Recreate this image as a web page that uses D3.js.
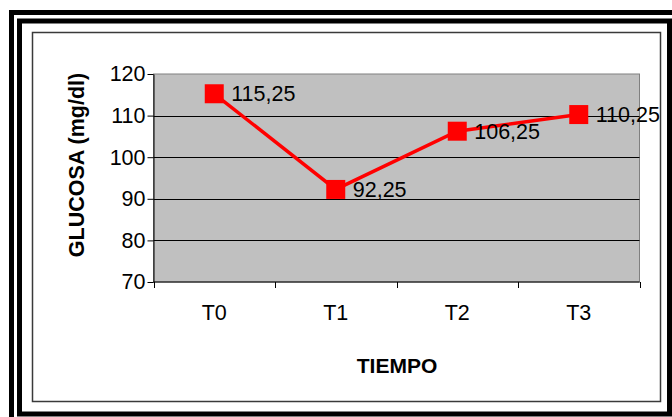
<!DOCTYPE html>
<html>
<head>
<meta charset="utf-8">
<script src="https://cdn.jsdelivr.net/npm/d3@7"></script>
<style>
  html, body { margin: 0; padding: 0; background: #ffffff; }
  svg { display: block; font-family: "Liberation Sans", Arial, sans-serif; }
</style>
</head>
<body>
<svg id="chart" width="672" height="417"></svg>
<script>
// Glucose readings at each sampling time
const categories = ["T0", "T1", "T2", "T3"];
const glucosa = [115.25, 92.25, 106.25, 110.25];
const yTicks = [70, 80, 90, 100, 110, 120];
const valueLabels = ["115,25", "92,25", "106,25", "110,25"];

const svg = d3.select("#chart");

// Double black frame around the chart
svg.append("rect")
  .attr("x", 11.5).attr("y", 12.5).attr("width", 720).attr("height", 520)
  .attr("fill", "none").attr("stroke", "#000").attr("stroke-width", 5);
svg.append("rect")
  .attr("x", 19.5).attr("y", 21).attr("width", 650).attr("height", 393)
  .attr("fill", "none").attr("stroke", "#000").attr("stroke-width", 5);

// Chart area border
svg.append("rect")
  .attr("x", 32.5).attr("y", 32.5).attr("width", 628).attr("height", 369)
  .attr("fill", "#fff").attr("stroke", "#3a3a3a").attr("stroke-width", 1.5);

const plot = { left: 153.5, right: 639.5, top: 74, bottom: 282 };

const x = d3.scaleBand().domain(categories).range([plot.left, plot.right]);
const y = d3.scaleLinear().domain([70, 120]).range([plot.bottom, plot.top]);

// Plot area
svg.append("rect")
  .attr("x", plot.left).attr("y", plot.top)
  .attr("width", plot.right - plot.left).attr("height", plot.bottom - plot.top)
  .attr("fill", "#c0c0c0").attr("stroke", "#808080").attr("stroke-width", 1);

// Horizontal gridlines
svg.append("g")
  .selectAll("line")
  .data(yTicks.filter(t => t > 70 && t < 120))
  .join("line")
  .attr("x1", plot.left).attr("x2", plot.right)
  .attr("y1", d => Math.round(y(d)) + 0.5).attr("y2", d => Math.round(y(d)) + 0.5)
  .attr("stroke", "#000").attr("stroke-width", 1);

// Y axis
const yAxis = svg.append("g")
  .attr("transform", `translate(${plot.left},0)`)
  .call(d3.axisLeft(y).tickValues(yTicks).tickSize(6).tickSizeOuter(0).tickPadding(2)
    .tickFormat(d3.format("d")));
yAxis.select(".domain").attr("stroke", "#000");
yAxis.selectAll(".tick line").attr("stroke", "#000");
yAxis.selectAll(".tick text")
  .attr("font-family", "Liberation Sans, Arial, sans-serif")
  .attr("font-size", 21.5).attr("fill", "#000");

// X axis: line, tick marks between categories, centred category labels
const xAxis = svg.append("g").attr("transform", `translate(0,${plot.bottom})`);
xAxis.append("line")
  .attr("x1", plot.left).attr("x2", plot.right)
  .attr("stroke", "#000").attr("stroke-width", 1);
const boundaries = categories.map(c => x(c)).concat([x.range()[1]]);
xAxis.selectAll("line.tk")
  .data(boundaries)
  .join("line").attr("class", "tk")
  .attr("x1", d => Math.round(d) + 0.5).attr("x2", d => Math.round(d) + 0.5)
  .attr("y1", 0).attr("y2", 6)
  .attr("stroke", "#000");
xAxis.selectAll("text")
  .data(categories)
  .join("text")
  .attr("x", d => x(d) + x.bandwidth() / 2)
  .attr("y", 38)
  .attr("text-anchor", "middle")
  .attr("font-size", 21.5).attr("fill", "#000")
  .text(d => d);

// Axis titles
svg.append("text")
  .attr("x", 397).attr("y", 373)
  .attr("text-anchor", "middle")
  .attr("font-size", 21).attr("font-weight", "bold").attr("fill", "#000")
  .text("TIEMPO");
svg.append("text")
  .attr("transform", "translate(84,165) rotate(-90)")
  .attr("text-anchor", "middle")
  .attr("font-size", 21.5).attr("font-weight", "bold").attr("fill", "#000")
  .text("GLUCOSA (mg/dl)");

// Series line
const pts = categories.map((c, i) => ({ c, v: glucosa[i], label: valueLabels[i] }));
const line = d3.line()
  .x(d => x(d.c) + x.bandwidth() / 2)
  .y(d => y(d.v));
svg.append("path")
  .datum(pts)
  .attr("d", line)
  .attr("fill", "none").attr("stroke", "#ff0000").attr("stroke-width", 3.5)
  .attr("stroke-linejoin", "miter");

// Square markers
const ms = 19;
svg.append("g")
  .selectAll("rect")
  .data(pts)
  .join("rect")
  .attr("x", d => x(d.c) + x.bandwidth() / 2 - ms / 2)
  .attr("y", d => y(d.v) - ms / 2)
  .attr("width", ms).attr("height", ms)
  .attr("fill", "#ff0000");

// Value labels
svg.append("g")
  .selectAll("text")
  .data(pts)
  .join("text")
  .attr("x", d => x(d.c) + x.bandwidth() / 2 + 17)
  .attr("y", d => y(d.v))
  .attr("dy", "0.35em")
  .attr("font-size", 21.5).attr("fill", "#000")
  .text(d => d.label);
</script>
</body>
</html>
